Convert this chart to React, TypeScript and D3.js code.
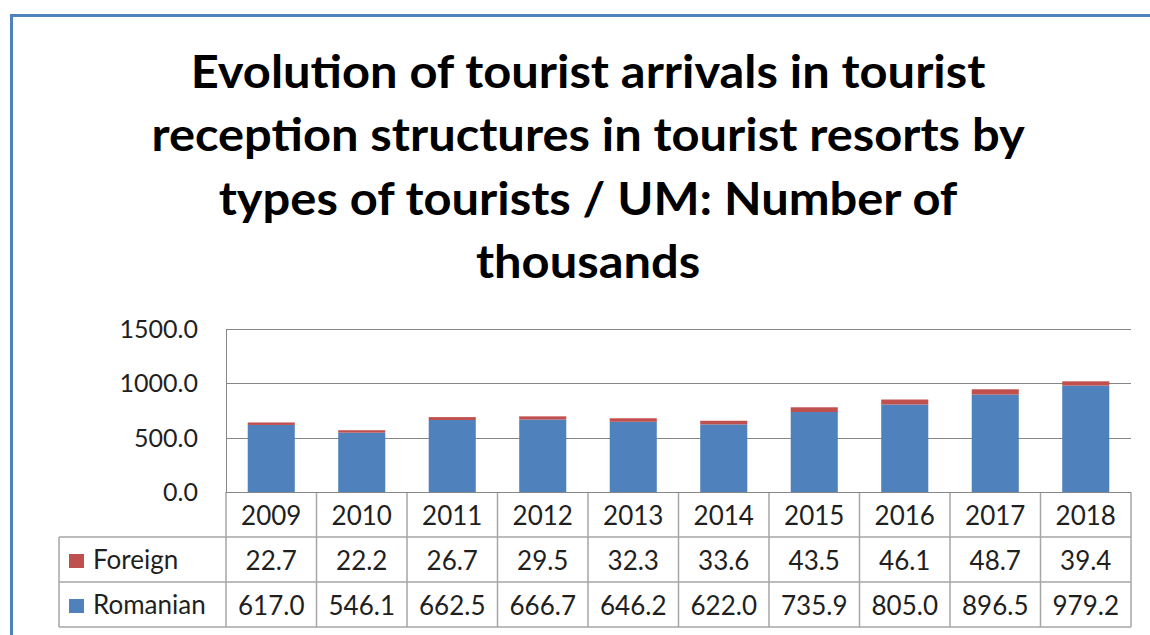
import React from "react";
import * as d3 from "d3";

const years = ["2009","2010","2011","2012","2013","2014","2015","2016","2017","2018"];
const foreign = [22.7,22.2,26.7,29.5,32.3,33.6,43.5,46.1,48.7,39.4];
const romanian = [617.0,546.1,662.5,666.7,646.2,622.0,735.9,805.0,896.5,979.2];
const yTicks = [0,500,1000,1500];
const titleLines = [
  "Evolution of tourist arrivals in tourist",
  "reception structures in tourist resorts by",
  "types of tourists / UM: Number of",
  "thousands",
];
const seriesNames = ["Foreign","Romanian"];
const seriesColors = ["#C0504D","#4F81BD"];

export default function App() {
  const W = 1150, H = 635;
  const left = 226, right = 1131, top = 329, bottom = 492;
  const x = d3.scaleBand<string>().domain(years).range([left, right]).paddingInner(0.48).paddingOuter(0.24);
  const band = d3.scaleBand<string>().domain(years).range([left, right]);
  const y = d3.scaleLinear().domain([0,1500]).range([bottom, top]);
  const rowY = [492, 537, 582, 627];
  const legendLeft = 59;
  const font = "Lato, 'Open Sans', sans-serif";
  const textColor = "#1f1f1f";
  const gridColor = "#868686";
  const tableColor = "#A6A6A6";
  const rows = [foreign, romanian];
  const titleCx = 588;
  const stretch = 1.085;
  return (
    <svg width={W} height={H} style={{position:"absolute", left:0, top:0, background:"#fff"}}>
      <rect x={0} y={0} width={W} height={H} fill="#fff" />
      <line x1={10} y1={15.5} x2={W} y2={15.5} stroke="#4F81BD" strokeWidth={3} />
      <line x1={11.5} y1={14} x2={11.5} y2={H} stroke="#4F81BD" strokeWidth={3} />
      <g transform={`translate(${titleCx},0) scale(${stretch},1)`}>
        {titleLines.map((t, i) => (
          <text key={i} x={0} y={88 + i*63.5} textAnchor="middle" fontFamily={font} fontWeight="bold" fontSize={45} fill="#000">{t}</text>
        ))}
      </g>
      {yTicks.map(v => (
        <g key={v}>
          <line x1={left} x2={right} y1={Math.round(y(v))+0.5} y2={Math.round(y(v))+0.5} stroke={gridColor} strokeWidth={1} />
          <text x={198} y={y(v)+9} textAnchor="end" fontFamily={font} fontSize={25} fill={textColor}>{v.toFixed(1)}</text>
        </g>
      ))}
      <line x1={left+0.5} x2={left+0.5} y1={top} y2={bottom} stroke={gridColor} />
      {years.map((yr, i) => {
        const r = romanian[i], f = foreign[i];
        return (
          <g key={yr}>
            <rect x={x(yr)} width={x.bandwidth()} y={y(r)} height={y(0)-y(r)} fill={seriesColors[1]} />
            <rect x={x(yr)} width={x.bandwidth()} y={y(r+f)} height={y(r)-y(r+f)} fill={seriesColors[0]} />
          </g>
        );
      })}
      <g stroke={tableColor} strokeWidth={1.5} fill="none">
        <line x1={legendLeft} x2={right} y1={rowY[1]} y2={rowY[1]} />
        <line x1={legendLeft} x2={right} y1={rowY[2]} y2={rowY[2]} />
        <line x1={legendLeft} x2={right} y1={rowY[3]} y2={rowY[3]} />
        <line x1={legendLeft} x2={legendLeft} y1={rowY[1]} y2={rowY[3]} />
        {years.map(yr => (
          <line key={yr} x1={band(yr)} x2={band(yr)} y1={rowY[0]} y2={rowY[3]} />
        ))}
        <line x1={right} x2={right} y1={rowY[0]} y2={rowY[3]} />
      </g>
      <line x1={left} x2={right} y1={bottom+0.5} y2={bottom+0.5} stroke={gridColor} />
      {years.map(yr => (
        <text key={yr} x={band(yr)! + band.bandwidth()/2} y={rowY[0]+33} textAnchor="middle" fontFamily={font} fontSize={26} fill={textColor}>{yr}</text>
      ))}
      {rows.map((vals, ri) => (
        <g key={ri}>
          <rect x={69} y={rowY[ri+1]+17} width={15} height={14} fill={seriesColors[ri]} />
          <text x={93} y={rowY[ri+1]+32} fontFamily={font} fontSize={26} fill={textColor}>{seriesNames[ri]}</text>
          {vals.map((v, i) => (
            <text key={i} x={band(years[i])! + band.bandwidth()/2} y={rowY[ri+1]+33} textAnchor="middle" fontFamily={font} fontSize={26} fill={textColor}>{v.toFixed(1)}</text>
          ))}
        </g>
      ))}
    </svg>
  );
}
